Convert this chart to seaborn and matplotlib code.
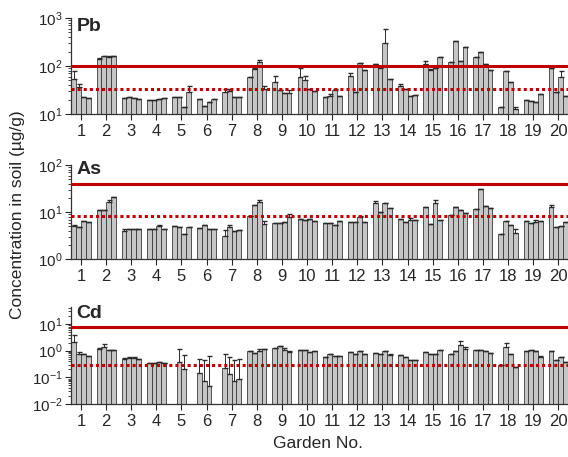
import numpy as np
import pandas as pd
import matplotlib
matplotlib.use("Agg")
import matplotlib.pyplot as plt
import seaborn as sns

gardens = [str(g) for g in range(1, 21)]
samples = ["s1", "s2", "s3", "s4"]
nan = np.nan

# mean concentrations, one row per garden (4 samples each)
pb_vals = [[53, 36, 23, 22], [138, 160, 152, 160], [22, 22.2, 21.3, 20.9], [19.9, 19.6, 20.6, 21.5],
           [22.2, 22.2, 14.2, 29], [20.5, 14.7, 17.8, 20.2], [29, 30.6, 22.6, 23], [60, 87, 119, 34],
           [46, 31.6, 27.4, 27], [60, 50, 34, 30.6], [22.9, 24.1, 31, 24], [62, 28.7, 114, 83],
           [112, 89, 306, 53.6], [39, 32.6, 24.1, 24.9], [112, 81, 91, 151], [121, 332, 127, 253],
           [154, 193, 112, 81], [13.8, 78.7, 45.7, 12.7], [19.6, 18.9, 17.8, 25.7], [92, 28.7, 58, 23.7]]
pb_err = [[25, 7, 0, 0], [10, 0, 8, 0], [0, 0, 0, 0], [0, 0, 0, 0],
          [0, 0, 0, 10], [0, 0, 0, 0], [4, 2, 0, 0], [0, 5, 14, 5],
          [16, 0, 0, 4], [29, 13, 0, 0], [0, 2, 2, 0], [8, 0, 0, 0],
          [0, 5, 274, 0], [3, 0, 0, 0], [17, 5, 0, 0], [0, 0, 0, 0],
          [0, 0, 0, 0], [0, 0, 0, 1.5], [0, 0, 0, 0], [0, 0, 21, 0]]

as_vals = [[5.1, 4.9, 6.6, 6.1], [11.1, 10.9, 16.4, 21], [4.05, 4.4, 4.4, 4.3], [4.4, 4.4, 5.2, 4.4],
           [5.0, 4.9, 3.4, 4.9], [4.6, 5.3, 4.5, 4.5], [3.2, 4.8, 4.05, 4.2], [8.3, 14, 16.4, 5.6],
           [6.0, 5.8, 6.1, 7.8], [7.05, 6.8, 7.05, 6.6], [5.9, 5.9, 5.4, 6.5], [6.3, 6.2, 7.8, 6.3],
           [15.4, 9.9, 15.9, 12.5], [7.05, 6.3, 6.8, 6.9], [12.9, 5.6, 15.9, 6.9], [8.7, 12.9, 10.9, 9.75],
           [11.7, 31, 13.5, 12.3], [3.4, 6.4, 5.4, 3.7], [6.4, 5.9, 6.2, 6.5], [12.9, 4.85, 5.1, 6.1]]
as_err = [[0.2, 0, 0, 0], [0, 0, 2, 0], [0.3, 0, 0, 0], [0, 0, 0.2, 0],
          [0.2, 0, 0, 0], [0, 0, 0, 0], [0.9, 0.5, 0, 0], [0, 0.5, 1.5, 1],
          [0, 0, 0, 1.2], [0, 0, 0, 0], [0, 0, 0, 0], [0, 0, 0.6, 0],
          [2, 0, 0, 0], [0, 0, 0.6, 0], [0, 0, 2.5, 0], [0, 0, 0, 0],
          [0, 0, 0, 0], [0, 0, 0, 0.8], [0, 0, 0.6, 0], [1, 0, 0, 0]]

cd_vals = [[2.13, 0.78, 0.72, 0.62], [1.2, 1.39, 1.04, 1.1], [0.47, 0.52, 0.52, 0.47], [0.35, 0.35, 0.37, 0.35],
           [nan, 0.38, 0.2, nan], [0.14, 0.072, 0.046, nan], [0.215, 0.128, 0.072, 0.086], [0.95, 0.83, 1.0, 1.15],
           [1.31, 1.51, 1.1, 0.9], [1.07, 1.1, 0.93, 0.98], [0.59, 0.74, 0.64, 0.64], [0.88, 0.78, 0.95, 0.76],
           [0.8, 0.76, 0.98, 0.7], [0.7, 0.57, 0.45, 0.44], [0.88, 0.72, 0.76, 1.1], [0.74, 1.01, 1.6, 1.17],
           [1.07, 1.07, 0.98, 0.83], [0.29, 1.39, 0.72, 0.235], [0.95, 1.04, 0.98, 0.59], [0.98, 0.43, 0.59, 0.39]]
cd_err = [[1.65, 0.12, 0, 0], [0.1, 0.45, 0, 0], [0.04, 0.05, 0.04, 0], [0, 0, 0, 0],
          [0, 0.75, 0.48, 0], [0.33, 0.37, 0.57, 0], [0.56, 0.46, 0.37, 0.39], [0, 0, 0.15, 0],
          [0, 0, 0.12, 0.05], [0, 0, 0, 0], [0, 0, 0, 0], [0, 0, 0, 0],
          [0, 0, 0, 0.08], [0, 0, 0, 0], [0, 0, 0, 0], [0, 0, 0.8, 0.2],
          [0, 0, 0, 0], [0, 0.5, 0, 0], [0, 0, 0, 0.05], [0, 0, 0, 0]]

# guideline (solid) and background (dotted) levels
pb_lines = [100, 33]
as_lines = [40, 8.3]
cd_lines = [7.5, 0.28]

sns.set_style("ticks")
plt.rcParams['font.family'] = ['Liberation Sans', 'DejaVu Sans']
plt.rcParams['mathtext.fontset'] = 'custom'
plt.rcParams['mathtext.rm'] = 'Liberation Sans'

fig = plt.figure(figsize=(5.68, 4.57), dpi=100)

panels = [
    ("Pb", pb_vals, pb_err, pb_lines, (10, 1000), [0.1245, 0.7505, 0.8755, 0.210], 0.91),
    ("As", as_vals, as_err, as_lines, (1, 100), [0.1245, 0.4326, 0.8755, 0.206], 0.955),
    ("Cd", cd_vals, cd_err, cd_lines, (0.01, 45), [0.1245, 0.116, 0.8755, 0.213], 0.93),
]

bar_w = 0.76
red = "#c00000"

for name, vals, errs, lines, ylim, pos, label_y in panels:
    ax = fig.add_axes(pos)
    df = pd.DataFrame({
        "garden": np.repeat(gardens, 4),
        "sample": samples * 20,
        "value": np.array(vals, dtype=float).ravel(),
    })
    sns.barplot(data=df, x="garden", y="value", hue="sample", order=gardens, hue_order=samples,
                palette=["#c6c6c6"] * 4, edgecolor="#3a3a3a", linewidth=0.6, width=bar_w,
                errorbar=None, legend=False, ax=ax)
    ax.set_yscale("log", nonpositive="clip")

    v = np.array(vals, dtype=float)
    e = np.array(errs, dtype=float)
    for k in range(4):
        x = np.arange(20) + (k - 1.5) * bar_w / 4
        ax.errorbar(x, v[:, k], yerr=[np.zeros(20), e[:, k]], fmt="none", ecolor="#2a2a2a",
                    elinewidth=0.7, capsize=1.8, capthick=1.0, zorder=3)

    ax.axhline(lines[0], color=red, lw=2.2, zorder=4)
    ax.axhline(lines[1], color=red, lw=2.2, ls=(0, (1, 1)), zorder=4)

    ax.set_ylim(*ylim)
    ax.set_xlim(-0.41, 19.39)
    ax.set_xlabel("")
    ax.set_ylabel("")
    ax.tick_params(axis="x", labelsize=12, length=4, width=0.8, pad=3)
    ax.tick_params(axis="y", which="major", labelsize=11, length=4, width=0.8, pad=2)
    ax.tick_params(axis="y", which="minor", length=2.5, width=0.6)
    for side in ["top", "right"]:
        ax.spines[side].set_visible(False)
    for side in ["left", "bottom"]:
        ax.spines[side].set_color("#333333")
        ax.spines[side].set_linewidth(0.9)
    ax.text(0.012, label_y, name, transform=ax.transAxes, fontsize=14, fontweight="bold",
            va="center", ha="left")

fig.text(0.03, 0.53, "Concentration in soil (µg/g)", rotation=90, va="center", ha="center", fontsize=12.5)
fig.text(0.56, 0.03, "Garden No.", va="center", ha="center", fontsize=12.5)

fig.savefig("out.png", dpi=100)
